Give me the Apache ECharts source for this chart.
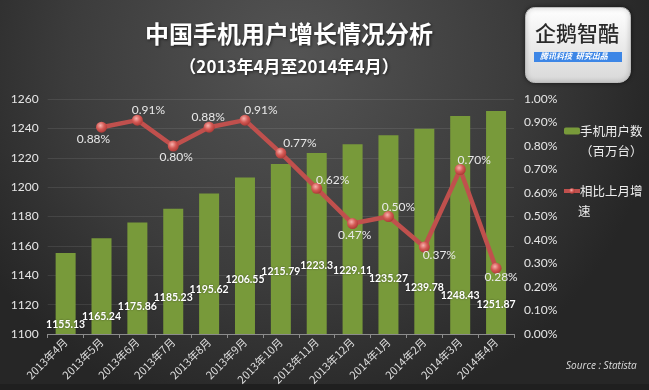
<!DOCTYPE html>
<html>
<head>
<meta charset="utf-8">
<script src="https://cdn.jsdelivr.net/npm/echarts@6/dist/echarts.min.js"></script>
<style>
html,body{margin:0;padding:0;background:#2b2b2b;}
#c{width:649px;height:390px;}
</style>
</head>
<body>
<div id="c"></div>
<script>
// ---- data ----
var categories = ['2013年4月','2013年5月','2013年6月','2013年7月','2013年8月','2013年9月','2013年10月','2013年11月','2013年12月','2014年1月','2014年2月','2014年3月','2014年4月'];
var users = [1155.13, 1165.24, 1175.86, 1185.23, 1195.62, 1206.55, 1215.79, 1223.3, 1229.11, 1235.27, 1239.78, 1248.43, 1251.87];
var growth = [null, 0.88, 0.91, 0.80, 0.88, 0.91, 0.77, 0.62, 0.47, 0.50, 0.37, 0.70, 0.28];
var leftTicks = {min: 1100, max: 1260, interval: 20};
var rightTicks = {min: 0, max: 1, interval: 0.1};
var seriesNames = ['手机用户数（百万台）', '相比上月增速'];
var legendFirstLines = ['手机用户数', '相比上月增'];
var legendSecondLines = ['（百万台）', '速'];

// ---- label placement (styles, not data) ----
var barLabelLift = [10, 18, 28, 37, 45, 55, 63, 69, 64, 56, 47, 39, 30];
var lineLabelOffset = [null, [-8,12],[11,-10],[3,11],[-1,-10],[16,-10],[19,-10],[16,-8],[2,12],[10,-9],[15,8],[14,-9],[5,9]];

var barData = users.map(function(v, i){
  return {value: v, label: {offset: [0, -(barLabelLift[i] - 6)]}};
});
var lineData = growth.map(function(v, i){
  if (v === null) return null;
  return {value: v, label: {offset: lineLabelOffset[i]}};
});

var chart = echarts.init(document.getElementById('c'), null, {renderer: 'canvas'});
var option = {
  backgroundColor: {
    type: 'radial', x: 0.45, y: 0.15, r: 0.95,
    colorStops: [{offset: 0, color: '#545454'}, {offset: 0.6, color: '#3c3c3c'}, {offset: 1, color: '#262626'}]
  },
  animation: false,
  title: [{
    text: '中国手机用户增长情况分析',
    left: 284, top: 17, textAlign: 'center',
    textStyle: {color: '#ffffff', fontSize: 24, fontWeight: 'bold', fontFamily: 'Noto Sans CJK SC',
      textShadowColor: 'rgba(0,0,0,0.6)', textShadowBlur: 3, textShadowOffsetX: 1, textShadowOffsetY: 1}
  }, {
    text: '（2013年4月至2014年4月）',
    left: 284, top: 53, textAlign: 'center',
    textStyle: {color: '#ffffff', fontSize: 17, fontWeight: 'bold', fontFamily: 'Noto Sans CJK SC',
      textShadowColor: 'rgba(0,0,0,0.6)', textShadowBlur: 3, textShadowOffsetX: 1, textShadowOffsetY: 1}
  }],
  legend: {
    orient: 'vertical', left: 562, top: 122, padding: 0,
    itemWidth: 16, itemHeight: 7, itemGap: 42,
    data: seriesNames,
    formatter: function(name){
      return legendFirstLines[seriesNames.indexOf(name)];
    },
    lineStyle: {width: 4},
    textStyle: {color: '#eeeeee', fontSize: 12.5, lineHeight: 18, fontFamily: 'Noto Sans CJK SC', padding: [0, 0, 0, -5]}
  },
  grid: {left: 47.7, right: 135, top: 99, bottom: 56},
  xAxis: {
    type: 'category', data: categories,
    axisLine: {lineStyle: {color: '#8c8c8c'}},
    axisTick: {show: true, length: 4, lineStyle: {color: '#8c8c8c'}},
    axisLabel: {rotate: 45, color: '#dddddd', fontSize: 11, margin: 6, fontFamily: 'Noto Sans CJK SC', interval: 0}
  },
  yAxis: [{
    type: 'value', min: leftTicks.min, max: leftTicks.max, interval: leftTicks.interval,
    axisLine: {show: false}, axisTick: {show: false},
    axisLabel: {color: '#e6e6e6', fontSize: 12, margin: 9, fontFamily: 'Lato',
      formatter: function(v){ return String(v); }},
    splitLine: {lineStyle: {color: 'rgba(255,255,255,0.09)', width: 1}}
  }, {
    type: 'value', min: rightTicks.min, max: rightTicks.max, interval: rightTicks.interval,
    axisLine: {show: false}, axisTick: {show: false},
    axisLabel: {color: '#e6e6e6', fontSize: 12, margin: 10, fontFamily: 'Lato',
      formatter: function(v){ return v.toFixed(2) + '%'; }},
    splitLine: {show: false}
  }],
  series: [{
    name: seriesNames[0], type: 'bar', data: barData, barWidth: 20,
    itemStyle: {color: '#789a3a'},
    label: {show: true, position: 'insideBottom', distance: 0, color: '#ffffff', fontSize: 10.5,
      fontWeight: 'bold', fontFamily: 'Lato',
      textShadowColor: 'rgba(0,0,0,0.5)', textShadowBlur: 2},
    z: 2
  }, {
    name: seriesNames[1], type: 'line', yAxisIndex: 1, data: lineData,
    symbol: 'circle', symbolSize: 11, connectNulls: false,
    lineStyle: {color: '#c0504d', width: 4.5},
    itemStyle: {color: {type: 'radial', x: 0.4, y: 0.35, r: 0.7,
      colorStops: [{offset: 0, color: '#f7b2ae'}, {offset: 0.5, color: '#d45a55'}, {offset: 1, color: '#a83532'}]},
      borderColor: '#c0504d', borderWidth: 0},
    label: {show: true, position: 'inside', color: '#e8e8e8', fontSize: 12, fontFamily: 'Lato',
      formatter: function(p){ return p.value.toFixed(2) + '%'; }},
    z: 5
  }],
  graphic: [{
    type: 'rect', left: 0, top: 384, shape: {width: 649, height: 6},
    style: {fill: '#1f1f1f'}, z: -1
  }, {
    type: 'text', left: 580, top: 145,
    style: {text: legendSecondLines[0], fill: '#eeeeee', font: '12.5px "Noto Sans CJK SC"'}
  }, {
    type: 'text', left: 578, top: 205,
    style: {text: legendSecondLines[1], fill: '#eeeeee', font: '12.5px "Noto Sans CJK SC"'}
  }, {
    type: 'rect', left: 525, top: 7,
    shape: {width: 105, height: 75, r: [9, 9, 12, 9]},
    style: {fill: {type: 'linear', x: 0, y: 0, x2: 0, y2: 1,
      colorStops: [{offset: 0, color: '#ffffff'}, {offset: 1, color: '#d8d8d8'}]},
      stroke: '#bbbbbb', lineWidth: 1, shadowColor: 'rgba(0,0,0,0.5)', shadowBlur: 4}
  }, {
    type: 'text', left: 535, top: 23,
    style: {text: '企鹅智酷', fill: '#2a2a2a', font: '500 21px "Noto Sans CJK SC"'}
  }, {
    type: 'rect', left: 534, top: 52, shape: {width: 88, height: 10},
    style: {fill: '#3d86e6'}
  }, {
    type: 'text', left: 540, top: 52,
    style: {text: '腾讯科技  研究出品', fill: '#ffffff', font: 'italic bold 8px "Noto Sans CJK SC"'}
  }, {
    type: 'text', left: 566, top: 361,
    style: {text: 'Source : Statista', fill: '#dddddd', font: 'italic 10px "Open Sans"'}
  }]
};
chart.setOption(option);
</script>
</body>
</html>
